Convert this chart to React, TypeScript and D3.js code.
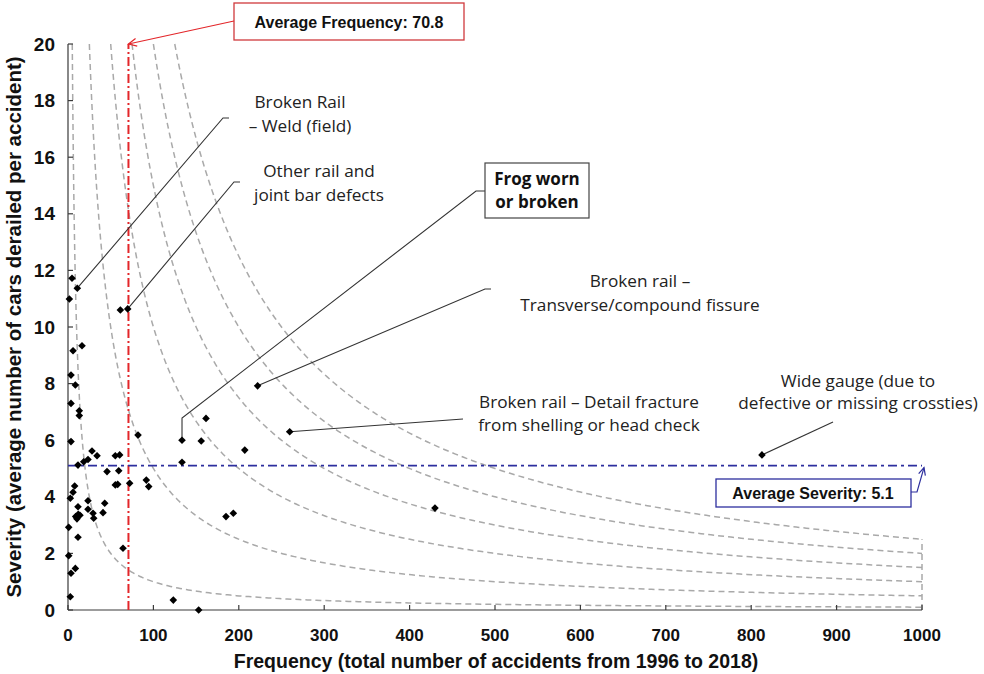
import React from "react";
import * as d3 from "d3";

// ---- Data ----
const frequency = [
  4.7, 10.9, 1.6, 61.3, 69.9, 16.4, 5.9, 3.5, 8.6, 3.5, 13.2, 13.2, 3.5, 82,
  28.1, 34, 23.4, 18.4, 11.7, 55.4, 60.5, 45.7, 59.4, 55.4, 58.2, 72.2, 91.7,
  94.5, 7.8, 5.9, 2.7, 23.4, 43, 11.7, 41, 23.4, 29.3, 30.1, 9, 12, 14, 10.5,
  0.8, 11.7, 64.4, 0.8, 8.6, 3.5, 2.7, 222, 161.6, 133.5, 156, 259.6, 207,
  133.5, 185, 193.6, 123.3, 153, 429.7, 812.6,
];
const severity = [
  11.72, 11.37, 10.99, 10.6, 10.64, 9.34, 9.16, 8.3, 7.95, 7.3, 7.04, 6.87,
  5.95, 6.18, 5.62, 5.45, 5.32, 5.24, 5.12, 5.45, 5.48, 4.89, 4.92, 4.42,
  4.44, 4.48, 4.59, 4.36, 4.38, 4.16, 3.95, 3.86, 3.77, 3.65, 3.44, 3.56,
  3.42, 3.24, 3.3, 3.38, 3.35, 3.22, 2.92, 2.57, 2.18, 1.92, 1.47, 1.3, 0.47,
  7.92, 6.77, 6.0, 5.97, 6.3, 5.65, 5.22, 3.3, 3.42, 0.35, 0.0, 3.6, 5.48,
];
const riskConstants = [100, 500, 1000, 1500, 2000, 2500];
const xTicks = [0, 100, 200, 300, 400, 500, 600, 700, 800, 900, 1000];
const yTicks = [0, 2, 4, 6, 8, 10, 12, 14, 16, 18, 20];
const avgFrequency = 70.8;
const avgSeverity = 5.1;
const xTitle = "Frequency (total number of accidents from 1996 to 2018)";
const yTitle = "Severity (average number of cars derailed per accident)";

// Annotation texts and which data point each one points at
const annoLines = [
  ["Broken Rail", "– Weld (field)"],
  ["Other rail and", "joint bar defects"],
  ["Broken rail –", "Transverse/compound fissure"],
  ["Broken rail – Detail fracture", "from shelling or head check"],
  ["Wide gauge (due to", "defective or missing crossties)"],
];
const annoPointIndex = [1, 4, 49, 53, 61];
const frogLines = ["Frog worn", "or broken"];
const frogPointIndex = 51;

const W = 984;
const H = 674;

function arrowHead(x1: number, y1: number, x2: number, y2: number, len = 9) {
  const a = Math.atan2(y2 - y1, x2 - x1);
  const s = Math.PI / 7;
  const p1 = [x2 - len * Math.cos(a - s), y2 - len * Math.sin(a - s)];
  const p2 = [x2 - len * Math.cos(a + s), y2 - len * Math.sin(a + s)];
  return `M${p1[0]},${p1[1]}L${x2},${y2}L${p2[0]},${p2[1]}`;
}

export default function App() {
  const x = d3.scaleLinear().domain([0, 1000]).range([68, 922]);
  const y = d3.scaleLinear().domain([0, 20]).range([610, 44]);

  const line = d3
    .line<[number, number]>()
    .x((d) => x(d[0]))
    .y((d) => y(d[1]));

  const curves = riskConstants.map((k) => {
    const x0 = k / 20;
    const pts: [number, number][] = [];
    const n = 300;
    for (let i = 0; i <= n; i++) {
      const xv = x0 * Math.pow(1000 / x0, i / n);
      pts.push([xv, k / xv]);
    }
    return line(pts) || "";
  });

  const diamond = (cx: number, cy: number, r = 3.8) =>
    `M${cx},${cy - r}L${cx + r},${cy}L${cx},${cy + r}L${cx - r},${cy}Z`;

  const annoFont = "'Open Sans', 'Noto Sans', sans-serif";
  const boldFont = "'Liberation Sans', Arial, sans-serif";

  const annoLayout = [
    { tx: 300, ty: 108, gap: 24, path: [[223, 118], [229, 118]] },
    { tx: 319, ty: 177, gap: 24, path: [[234, 182], [240, 182]] },
    { tx: 640, ty: 287, gap: 24, path: [[485, 289], [491, 289]] },
    { tx: 589, ty: 408, gap: 23, path: [[463, 419]] },
    { tx: 858, ty: 387, gap: 22, path: [[833, 422]] },
  ];

  const fp = [x(frequency[frogPointIndex]), y(severity[frogPointIndex])];
  const frogPath = `M485,191L476,191L${fp[0]},418L${fp[0]},${fp[1]}`;

  const avgFx = x(avgFrequency);
  const avgSy = y(avgSeverity);

  return (
    <svg
      width={W}
      height={H}
      style={{ position: "absolute", left: 0, top: 0, background: "#fff" }}
    >
      <rect x={0} y={0} width={W} height={H} fill="#fff" />
      {/* iso-risk curves */}
      <g fill="none" stroke="#a9a9a9" strokeWidth={1.5} strokeDasharray="6,4">
        {curves.map((d, i) => (
          <path key={i} d={d} />
        ))}
        <line x1={x(1000)} x2={x(1000)} y1={y(0)} y2={y(2.5)} />
      </g>

      {/* axes */}
      <g stroke="#3a3a3a" strokeWidth={1.2}>
        <line x1={x(0)} x2={x(0)} y1={y(0)} y2={y(20)} />
        <line x1={x(0)} x2={x(1000)} y1={y(0)} y2={y(0)} />
        {yTicks.map((t) => (
          <line key={"yt" + t} x1={x(0)} x2={x(0) + 5} y1={y(t)} y2={y(t)} />
        ))}
        {xTicks.map((t) => (
          <line key={"xt" + t} x1={x(t)} x2={x(t)} y1={y(0)} y2={y(0) - 5} />
        ))}
      </g>
      <g fontFamily={boldFont} fontWeight="bold" fill="#111">
        {yTicks.map((t) => (
          <text key={"yl" + t} x={55} y={y(t) + 6.5} textAnchor="end" fontSize={19}>
            {t}
          </text>
        ))}
        {xTicks.map((t) => (
          <text key={"xl" + t} x={x(t)} y={641} textAnchor="middle" fontSize={17}>
            {t}
          </text>
        ))}
      </g>
      <text
        x={496}
        y={668}
        textAnchor="middle"
        fontFamily={boldFont}
        fontWeight="bold"
        fontSize={19.5}
        fill="#111"
      >
        {xTitle}
      </text>
      <text
        transform={`translate(21,${(y(0) + y(20)) / 2}) rotate(-90)`}
        textAnchor="middle"
        fontFamily={boldFont}
        fontWeight="bold"
        fontSize={20.5}
        fill="#111"
      >
        {yTitle}
      </text>

      {/* average lines */}
      <line
        x1={avgFx}
        x2={avgFx}
        y1={y(0)}
        y2={y(20)}
        stroke="#e3262a"
        strokeWidth={2}
        strokeDasharray="9,3,2,3"
      />
      <line
        x1={x(0)}
        x2={x(1000)}
        y1={avgSy}
        y2={avgSy}
        stroke="#2d2f9e"
        strokeWidth={1.8}
        strokeDasharray="9,4,3,4"
      />

      {/* leader lines */}
      <g fill="none" stroke="#333" strokeWidth={1.1}>
        {annoLayout.map((a, i) => {
          const px = x(frequency[annoPointIndex[i]]);
          const py = y(severity[annoPointIndex[i]]);
          const d =
            `M${px},${py}` + a.path.map((p) => `L${p[0]},${p[1]}`).join("");
          return <path key={i} d={d} />;
        })}
        <path d={frogPath} />
      </g>

      {/* points */}
      <g fill="#000">
        {frequency.map((f, i) => (
          <path key={i} d={diamond(x(f), y(severity[i]))} />
        ))}
      </g>

      {/* annotation texts */}
      <g fontFamily={annoFont} fontSize={17.2} fill="#222" textAnchor="middle">
        {annoLayout.map((a, i) =>
          annoLines[i].map((s, j) => (
            <text key={i + "-" + j} x={a.tx} y={a.ty + j * a.gap}>
              {s}
            </text>
          ))
        )}
      </g>

      {/* frog box */}
      <rect x={485} y={163} width={104} height={55} fill="#fff" stroke="#444" strokeWidth={1.2} />
      <g fontFamily={annoFont} fontWeight="bold" fontSize={17} fill="#111" textAnchor="middle">
        {frogLines.map((s, j) => (
          <text key={j} x={537} y={185 + j * 23}>
            {s}
          </text>
        ))}
      </g>

      {/* Average frequency box */}
      <rect x={234} y={3} width={230} height={37} fill="#fff" stroke="#d0393c" strokeWidth={1.3} />
      <text x={349} y={27.5} textAnchor="middle" fontFamily={boldFont} fontWeight="bold" fontSize={16} fill="#111">
        {"Average Frequency: " + avgFrequency}
      </text>
      <g fill="none" stroke="#e3262a" strokeWidth={1.2}>
        <path d={`M234,21L${avgFx},${y(20)}`} />
        <path d={arrowHead(234, 21, avgFx, y(20))} />
      </g>

      {/* Average severity box */}
      <rect x={716} y={479} width={195} height={28} fill="#fff" stroke="#2d2f9e" strokeWidth={1.3} />
      <text x={813} y={499} textAnchor="middle" fontFamily={boldFont} fontWeight="bold" fontSize={16} fill="#111">
        {"Average Severity: " + avgSeverity}
      </text>
      <g fill="none" stroke="#2d2f9e" strokeWidth={1.2}>
        <path d={`M911,492L917,492L${x(1000) + 2},${avgSy + 2}`} />
        <path d={arrowHead(917, 492, x(1000) + 2, avgSy + 2, 8)} />
      </g>
    </svg>
  );
}
